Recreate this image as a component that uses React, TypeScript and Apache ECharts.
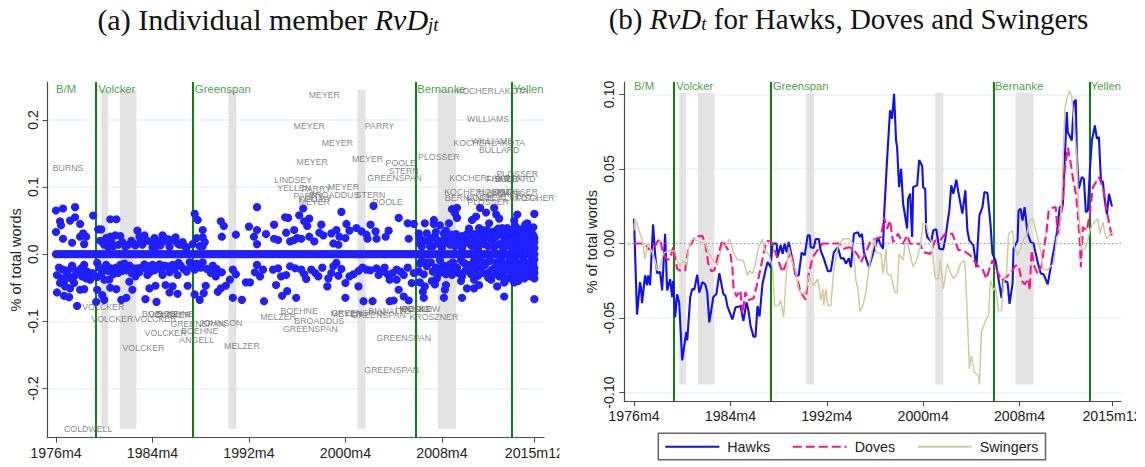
import React, { useEffect, useRef } from "react";
import * as echarts from "echarts";

const tickMonths = [0, 96, 192, 288, 384, 476];
const tickLabels = ["1976m4", "1984m4", "1992m4", "2000m4", "2008m4", "2015m12"];
const leftTicks = [-0.2, -0.1, 0, 0.1, 0.2];
const rightTicks = [-0.1, -0.05, 0, 0.05, 0.1];
const chairMonths = [40, 136, 358, 454];
const recessions = [[45, 52], [63.5, 80], [171.5, 179.5], [300, 308], [380, 398]];
const chairNames = ["B/M", "Volcker", "Greenspan", "Bernanke", "Yellen"];
const chairLabelMonths = [10, 60.5, 166, 383.5, 470];

const zeroMonths = [0,3,6,9,12,15,18,21,24,27,30,33,36,39,42,45,48,51,54,57,60,63,66,69,72,75,78,81,84,87,90,93,96,99,102,105,108,111,114,117,120,123,126,129,132,135,138,141,144,147,150,153,156,159,162,165,168,171,174,177,180,183,186,189,192,195,198,201,204,207,210,213,216,219,222,225,228,231,234,237,240,243,246,249,252,255,258,261,264,267,270,273,276,279,282,285,288,291,294,297,300,303,306,309,312,315,318,321,324,327,330,333,336,339,342,345,348,351,354,357,360,363,366,369,372,375,378,381,384,387,390,393,396,399,402,405,408,411,414,417,420,423,426,429,432,435,438,441,444,447,450,453,456,459,462,465,468,471,474,476];

const memberAbove = [
[0,.065],[7,.068],[19,.07],[37,.0575],[54,.052],[60,.052],[4,.049],[5,.043],[14,.05],[19,.055],[24,.045],[0,.033],[7,.023],[16,.017],[24,.026],[27,.031],[30,.026],[28,.015],
[42,.037],[45,.037],[50,.024],[54,.026],[59,.028],[64,.027],[48,.014],[62,.014],[72,.014],[81,.035],[83,.026],[88,.028],[79,.013],[86,.014],[98,.024],[106,.028],[102,.019],[108,.024],[110,.019],[119,.025],[121,.016],[126,.018],[96,.01],[113,.011],[123,.014],[136,.015],[138,.06],[141,.051],[140,.024],[146,.025],[146,.036],[146,.012],[164,.049],[167,.042],[165,.026],[179,.029],[192,.041],[200,.07],[200,.036],[197,.026],[200,.015],[209,.03],[217,.044],[217,.023],[221,.021],[228,.055],[231,.054],[229,.032],[233,.019],[237,.036],[237,.021],[240,.024],
[246,.068],[284,.063],[316,.072],[242,.058],[252,.053],[247,.049],[250,.042],[264,.044],[262,.032],[266,.028],[244,.023],[252,.026],[257,.019],[274,.031],[279,.036],[282,.026],[276,.016],[281,.014],[288,.024],[289,.045],[292,.035],[299,.039],[304,.034],[309,.029],[310,.023],[313,.044],[318,.034],[319,.023],[328,.026],[331,.035],[341,.054],[350,.046],[356,.045],[351,.023],[367,.046],[376,.051],[376,.045],[382,.043],[391,.046],[394,.067],[399,.069],[397,.061],[399,.054],[361,.031],[369,.031],[362,.016],[377,.026],[386,.031],[394,.029],[406,.026],[411,.038],[414,.051],[418,.056],[422,.069],[428,.062],[436,.069],[438,.059],[441,.053],[421,.039],[431,.046],[424,.029],[436,.034],[444,.039],[456,.05],[459,.059],[476,.06],[449,.039],[469,.046],[475,.04],[457,.031],[466,.039],[472,.026],[452,.021],[462,.024],[476,.024],
];

const memberBelow = [
[1,-.031],[7,-.023],[16,-.017],[28,-.016],[11,-.031],[23,-.027],[31,-.026],[4,-.043],[9,-.048],[14,-.051],[1,-.057],[8,-.062],[13,-.064],[24,-.053],[28,-.052],[21,-.077],[18,-.033],[26,-.033],[34,-.038],[41,-.034],
[41,-.013],[41,-.053],[46,-.061],[48,-.068],[40,-.071],[54,-.05],[60,-.052],[48,-.038],[53,-.038],[65,-.068],[70,-.065],[76,-.053],[73,-.041],[89,-.067],[100,-.071],[93,-.051],[99,-.047],
[64,-.016],[73,-.017],[81,-.021],[88,-.015],[94,-.026],[103,-.015],[111,-.018],[116,-.016],[124,-.017],[134,-.018],[146,-.012],[79,-.033],[91,-.031],[106,-.031],[121,-.031],[109,-.046],[116,-.048],[113,-.057],[121,-.059],[131,-.047],[138,-.06],[143,-.068],[147,-.058],[149,-.047],[138,-.023],[154,-.028],[159,-.033],[165,-.027],[161,-.056],[164,-.051],[169,-.047],[173,-.038],[176,-.023],[179,-.03],[176,-.065],[185,-.068],[189,-.042],[193,-.042],[198,-.027],[200,-.016],[206,-.023],[203,-.033],[207,-.07],[219,-.046],[224,-.033],[229,-.031],[216,-.023],[221,-.021],[225,-.062],[230,-.055],[233,-.018],[238,-.021],[239,-.065],
[244,-.023],[254,-.023],[249,-.037],[261,-.033],[271,-.036],[279,-.013],[276,-.018],[281,-.032],[292,-.033],[270,-.048],[288,-.043],[301,-.025],[301,-.048],[309,-.023],[319,-.021],[321,-.031],[327,-.02],[332,-.038],[339,-.023],[339,-.038],[341,-.053],[346,-.063],[351,-.069],[288,-.065],[306,-.07],[315,-.07],[332,-.07],[336,-.069],[346,-.031],[354,-.043],[362,-.042],[367,-.048],[365,-.056],[366,-.065],[374,-.04],[377,-.045],[386,-.065],[387,-.053],[388,-.046],[404,-.065],[403,-.04],[409,-.051],[416,-.051],[421,-.046],[439,-.048],[446,-.042],[446,-.063],[476,-.067],[394,-.031],[416,-.038],[441,-.033],[459,-.036],[476,-.028],[361,-.026],[382,-.028],
];

const memberCrowded = [
[364,.011],[370,.019],[375,.012],[380,.02],[384,.009],[389,.017],[392,.024],[397,.012],[400,.02],[404,.009],[408,.017],[411,.027],[414,.012],[417,.021],[420,.008],[423,.017],[425,.036],[427,.025],[430,.012],[432,.03],[434,.02],[436,.01],[438,.026],[440,.038],[441,.015],[443,.03],[445,.008],[446,.021],[448,.033],[449,.013],[451,.026],[453,.036],[454,.009],[455,.019],[457,.042],[458,.012],[459,.028],[461,.037],[462,.016],[463,.008],[464,.031],[465,.022],[466,.012],[467,.044],[468,.028],[469,.017],[470,.036],[471,.009],[472,.021],[473,.033],[474,.014],[475,.028],[476,.009],[476,.018],
[364,-.01],[369,-.018],[373,-.012],[378,-.02],[382,-.009],[386,-.017],[391,-.024],[395,-.012],[399,-.02],[403,-.009],[407,-.025],[410,-.016],[413,-.03],[416,-.01],[419,-.021],[422,-.008],[425,-.028],[427,-.016],[430,-.035],[432,-.01],[434,-.023],[436,-.03],[438,-.012],[440,-.019],[442,-.026],[443,-.008],[445,-.033],[446,-.016],[448,-.023],[450,-.036],[451,-.01],[453,-.028],[454,-.018],[456,-.042],[457,-.009],[459,-.025],[461,-.014],[462,-.031],[464,-.02],[465,-.008],[466,-.036],[468,-.013],[469,-.027],[470,-.019],[472,-.033],[473,-.01],[474,-.022],[475,-.015],[476,-.008],[476,-.036],
];

const memberFill = [
[44,.02],[47,.016],[52,.011],[55,.019],[57,.012],[66,.018],[69,.011],[75,.02],[77,.016],[84,.018],[91,.02],[95,.018],[100,.012],[104,.013],[112,.022],[117,.021],[128,.012],[130,.01],[143,.012],[148,.018],
[3,-.02],[5,-.036],[8,-.04],[12,-.024],[15,-.036],[18,-.043],[20,-.025],[25,-.021],[30,-.036],[33,-.03],[36,-.028],[43,-.02],[45,-.03],[47,-.022],[50,-.016],[52,-.025],[55,-.021],[57,-.03],[60,-.02],[62,-.028],[66,-.025],[68,-.014],[70,-.024],[75,-.028],[77,-.021],[83,-.027],[85,-.02],[90,-.022],[92,-.018],[96,-.016],[98,-.024],[101,-.019],[105,-.024],[108,-.017],[113,-.027],[118,-.022],[122,-.013],[127,-.022],[130,-.026],[133,-.012],[140,-.014],[144,-.02],[150,-.022],[156,-.017],[160,-.022],
[247,-.03],[258,-.028],[265,-.02],[274,-.028],[284,-.022],[296,-.03],[305,-.02],[313,-.024],[324,-.026],[330,-.03],[335,-.028],[343,-.026],[350,-.02],[356,-.028],
[362,.024],[366,.02],[372,.012],[374,.024],[378,.033],[382,.014],[386,.022],[388,.035],[392,.014],[395,.02],[398,.03],[402,.014],[404,.027],[406,.017],[409,.03],[412,.015],[416,.03],[418,.013],[420,.03],[422,.022],[426,.015],[429,.036],[431,.024],
[362,-.014],[366,-.03],[370,-.012],[375,-.026],[379,-.036],[384,-.02],[388,-.03],[392,-.015],[396,-.022],[400,-.028],[404,-.033],[406,-.013],[412,-.021],[415,-.027],[418,-.014],[420,-.032],[424,-.019],[428,-.012],[431,-.027],[433,-.038],[437,-.02],[440,-.03],[444,-.013],[447,-.036],[452,-.02],[455,-.033],[458,-.016],[460,-.04],[463,-.024],[467,-.03],[471,-.017],[474,-.029],[476,-.021],
];

const memberLabels: [string, number, number][] = [
["BURNS",12,.128],["MEYER",267,.237],["MEYER",252,.191],["PARRY",322,.191],["MEYER",280,.165],["MEYER",255,.137],["MEYER",310,.142],["POOLE",343,.136],["STERN",346,.124],["GREENSPAN",337,.114],["PLOSSER",381,.144],["KOCHERLAKOTA",434,.243],["WILLIAMS",430,.201],["KOCHERLAKOTA",431,.166],["WILLIAMS",434,.168],["BULLARD",441,.155],["LINDSEY",236,.11],["YELLEN",237,.098],["PARRY",259,.097],["MEYER",286,.1],["STERN",313,.088],["POOLE",330,.077],["BROADDUS",277,.088],["MEYER",257,.078],["PARRY",251,.086],["KELLEY",258,.082],["KOCHERLAKOTA",427,.114],["PLOSSER",459,.12],["BULLARD",457,.112],["FISHER",444,.112],["KOCHERLAKOTA",422,.092],["HOENIG",437,.092],["PLOSSER",459,.092],["LACKER",446,.09],["BERNANKE",411,.083],["KOCHERLAKOTA",444,.083],["FISCHER",477,.083],["PLOSSER",430,.077],
["VOLCKER",47,-.079],["VOLCKER",56,-.097],["VOLCKER",99,-.096],["BOEHNE",104,-.089],["BOEHNE",119,-.089],["VOLCKER",113,-.091],["GREENSPAN",141,-.104],["JOHNSON",164,-.102],["VOLCKER",109,-.117],["BOEHNE",143,-.115],["ANGELL",140,-.128],["VOLCKER",87,-.139],["MELZER",185,-.136],["COLDWELL",32,-.26],["MELZER",221,-.093],["BOEHNE",242,-.085],["BROADDUS",262,-.099],["GREENSPAN",253,-.111],["MEYER",289,-.089],["GREENSPAN",321,-.091],["GREENSPAN",301,-.088],["PIANALTO",332,-.085],["POOLE",359,-.082],["HOENIG",355,-.082],["MOSKOW",362,-.082],["KROSZNER",376,-.093],["GREENSPAN",346,-.125],["GREENSPAN",334,-.172],
];

const hawks = [
[0,.0166],[3,-.0477],[6,-.026],[7,-.03],[8,-.04],[11,-.0215],[13,-.028],[14,-.0215],[16,-.028],[19,.0128],[21,-.007],[23,-.02],[26,-.019],[28,-.0315],[31,.0065],[33,-.0315],[36,-.024],[38,-.036],[39,-.025],[41,-.0495],[43,-.034],[45,-.04],[48,-.0785],[52,-.0595],[53,-.065],[56,-.036],[58,-.0305],[60,-.031],[63,-.021],[65,-.033],[68,-.026],[71,-.0275],[73,-.033],[75,-.053],[79,-.036],[82,-.034],[85,-.02],[89,-.034],[91,-.035],[93,-.042],[98,-.051],[101,-.043],[106,-.042],[109,-.052],[112,-.0395],[114,-.045],[116,-.055],[119,-.0625],[121,-.0625],[123,-.042],[125,-.049],[128,-.027],[131,-.018],[133,-.0125],[136,-.016],[138,0],[142,0],[143,-.009],[146,-.001],[148,-.007],[150,0],[152,-.006],[154,.001],[157,-.008],[161,-.0215],[164,-.0215],[167,-.006],[170,-.008],[173,.0054],[175,.0054],[176,-.0025],[179,-.003],[181,.003],[184,.003],[186,-.005],[189,-.01],[193,-.0186],[196,-.0186],[199,-.006],[203,-.0025],[206,-.01],[209,-.01],[211,-.0136],[214,-.01],[216,-.016],[219,.0065],[223,.0076],[225,.0043],[227,.0065],[229,-.006],[234,-.016],[237,-.009],[240,-.0025],[243,.004],[245,0],[248,-.0036],[249,.0177],[252,.0557],[255,.0893],[257,.0837],[259,.1004],[261,.069],[262,.0647],[264,.0378],[266,.05],[268,.0266],[272,.01],[273,.03],[275,.0334],[277,.0043],[278,.0378],[282,.039],[284,.056],[287,.052],[288,.0374],[290,.0367],[291,.0087],[292,.0043],[296,.001],[298,.0087],[301,.0096],[304,-.0036],[308,-.004],[310,.003],[312,.0128],[314,.022],[316,.039],[318,.0333],[321,.0427],[323,.0345],[327,.02],[330,.0356],[332,.0087],[334,.002],[338,-.0013],[341,-.016],[344,.0188],[347,.0244],[349,.0345],[352,.0338],[355,.0132],[357,-.007],[360,-.0114],[363,-.0237],[366,-.0365],[368,-.0248],[372,-.026],[374,-.0405],[377,-.027],[378,-.0036],[382,.002],[383,.022],[385,.0233],[387,.0154],[389,.0244],[392,.0065],[395,.001],[398,0],[399,-.0036],[402,-.0125],[405,-.02],[408,-.0208],[412,-.0275],[415,-.016],[418,-.0047],[421,.0065],[424,.0244],[427,.0255],[431,.0881],[432,.0747],[436,.0691],[438,.0948],[440,.0964],[441,.0602],[443,.0367],[446,.0445],[448,.0434],[450,.021],[452,.0221],[454,.049],[456,.0691],[459,.0792],[461,.0702],[463,.0714],[465,.0423],[467,.0412],[469,.0277],[471,.0195],[473,.0333],[476,.0248],
];

const doves = [
[0,0],[11,0],[14,-.0036],[19,-.0047],[23,.001],[26,.003],[29,-.007],[33,-.011],[36,-.0103],[39,-.0025],[43,-.017],[48,-.019],[51,-.018],[54,-.0036],[58,.001],[61,.0047],[68,.0051],[71,0],[74,-.0136],[77,-.0186],[80,-.018],[84,-.007],[88,.002],[91,-.0013],[96,-.007],[98,-.016],[99,-.029],[102,-.0356],[106,-.0315],[108,-.0472],[111,-.0327],[114,-.038],[119,-.037],[122,-.029],[126,-.017],[129,-.007],[132,.0016],[136,.0013],[139,-.0025],[143,-.0103],[148,-.0192],[153,-.0114],[156,-.0047],[159,-.0148],[163,-.0248],[166,-.0327],[171,-.0378],[174,-.0204],[178,-.0092],[183,-.0043],[188,0],[204,0],[209,-.0036],[214,-.0025],[218,-.0036],[223,-.008],[226,-.0125],[231,-.0058],[236,.002],[241,.0031],[246,.0043],[249,.0177],[252,.0098],[255,.0154],[258,.0009],[263,.0065],[268,-.0002],[272,.0054],[275,-.0002],[285,-.0002],[288,-.0058],[295,-.007],[300,.002],[305,.002],[310,.0065],[317,.0065],[323,-.0043],[328,-.0047],[335,-.008],[342,-.0148],[347,-.017],[351,-.0237],[355,-.0148],[357,-.0114],[362,-.019],[366,-.0248],[371,-.0226],[377,-.018],[380,-.0148],[383,-.0148],[386,-.0248],[389,-.0275],[393,-.0237],[394,-.0315],[396,-.0047],[399,-.0159],[402,-.0204],[406,-.0148],[409,0],[411,.0087],[413,.022],[417,.024],[420,.0244],[422,.0065],[425,.0177],[427,.0266],[429,.049],[432,.0642],[435,.0535],[437,.0445],[440,.0333],[442,.02],[444,0],[445,-.0159],[447,.011],[451,.0087],[454,.02],[457,.0378],[463,.0445],[467,.0378],[472,.0177],[476,.0043],
];

const swingers = [
[0,.0087],[1,.0166],[3,.0132],[6,.0065],[8,.003],[11,-.0103],[14,0],[18,-.0058],[21,-.0114],[23,-.0181],[26,-.0159],[29,-.007],[33,-.0051],[41,-.0051],[43,-.0114],[46,-.0159],[49,-.0114],[53,-.0148],[54,-.0047],[57,.002],[59,.0031],[66,.0009],[71,0],[74,-.0058],[79,-.0114],[83,-.0148],[86,-.0058],[89,-.0013],[92,-.0013],[95,.003],[99,-.0058],[103,-.011],[109,-.0114],[113,-.0215],[115,-.0181],[118,-.0204],[121,-.0136],[124,-.0025],[128,.0031],[130,-.0047],[134,-.007],[138,-.0159],[140,-.0416],[144,-.0416],[146,-.0382],[149,-.0494],[151,-.027],[154,-.0025],[158,-.0136],[161,-.0181],[164,-.0315],[168,-.0338],[171,-.0327],[174,-.0215],[176,-.0248],[179,-.0282],[183,-.0237],[186,-.0382],[188,-.0304],[189,-.0416],[191,-.0304],[193,-.0416],[196,-.0416],[199,-.0181],[203,-.0025],[208,.0031],[214,.0031],[218,0],[221,-.0248],[223,-.0304],[225,-.0456],[228,-.0416],[231,-.0327],[234,-.0159],[238,-.0025],[240,.003],[241,-.0058],[246,-.007],[248,-.0204],[251,-.0036],[252,-.0204],[256,-.0215],[257,-.0248],[260,-.0327],[262,-.0333],[264,-.007],[268,-.0114],[270,.001],[273,-.0013],[275,-.007],[278,-.0159],[282,-.0103],[285,-.0025],[288,.0132],[291,.0132],[293,.0065],[297,0],[298,-.0114],[300,-.0237],[303,-.0237],[305,-.0114],[308,-.0304],[312,-.0136],[315,-.0192],[318,-.0237],[322,-.0204],[325,-.0136],[327,-.0125],[329,-.0114],[330,-.018],[332,-.0494],[334,-.0841],[336,-.0752],[339,-.0864],[343,-.0886],[344,-.0946],[346,-.0595],[350,-.0517],[353,-.0483],[355,-.0248],[358,-.0315],[360,-.0293],[363,-.045],[366,-.045],[368,-.026],[371,-.0204],[373,.0065],[377,.0087],[379,-.0025],[382,-.008],[385,-.0036],[388,.003],[391,.0054],[394,.0154],[397,.0166],[399,.012],[401,.0065],[405,-.0047],[407,-.017],[411,-.0181],[414,-.0159],[418,-.0136],[421,.0043],[424,.0065],[426,.0311],[429,.0893],[431,.0971],[434,.1022],[436,.0982],[438,.0825],[441,.0579],[443,.02],[446,-.0047],[449,-.0036],[452,.002],[454,.0087],[457,.0132],[462,.0166],[464,.0065],[467,.0143],[469,.0065],[471,.0031],[476,.0076],
];

const GREEN = "#0b820b";
const AXIS = "#4a4a4a";
const SANS = "Liberation Sans";

function xAxis(gridIndex: number, min: number, max: number) {
  return {
    type: "value", gridIndex, min, max,
    axisLine: { show: true, onZero: false, lineStyle: { color: AXIS, width: 1.2 } },
    axisTick: { show: true, length: 5, customValues: tickMonths, lineStyle: { color: AXIS, width: 1 } },
    axisLabel: {
      customValues: tickMonths, margin: 8, color: "#222", fontSize: 14.2, fontFamily: SANS,
      formatter: (v: number) => tickLabels[tickMonths.indexOf(v)] ?? "",
    },
    splitLine: { show: false },
  };
}

function yAxis(gridIndex: number, min: number, max: number, ticks: number[], digits: number, nameGap: number) {
  return {
    type: "value", gridIndex, min, max,
    name: "% of total words", nameLocation: "middle", nameGap,
    nameTextStyle: { color: "#222", fontSize: 14.5, fontFamily: SANS },
    axisLine: { show: true, onZero: false, lineStyle: { color: AXIS, width: 1.2 } },
    axisTick: { show: true, length: 5, customValues: ticks, lineStyle: { color: AXIS, width: 1 } },
    axisLabel: {
      customValues: ticks, rotate: 90, margin: 8, color: "#222", fontSize: 14.2, fontFamily: SANS,
      formatter: (v: number) => v.toFixed(digits),
    },
    splitLine: { show: true, lineStyle: { color: "#ebf3f4", width: 1.5 } },
  };
}

function eventsSeries(index: number, labelY: number, top: number, bottom: number) {
  return {
    type: "scatter", xAxisIndex: index, yAxisIndex: index, z: 2, symbolSize: 0, silent: true,
    data: chairNames.map((name, i) => ({ name, value: [chairLabelMonths[i], labelY] })),
    label: {
      show: true, position: "inside", formatter: "{b}", color: "#118a11", fontSize: 11.3, fontFamily: SANS,
    },
    markArea: {
      silent: true, z: 1,
      itemStyle: { color: "#e3e3e3" },
      data: recessions.map(([a, b]) => [{ xAxis: a, yAxis: top }, { xAxis: b, yAxis: bottom }]),
    },
    markLine: {
      silent: true, symbol: "none", animation: false, label: { show: false }, z: 3,
      lineStyle: { color: GREEN, width: 2, type: "solid" },
      data: chairMonths.map((m) => ({ xAxis: m })),
    },
  };
}

function lineSeries(name: string, data: number[][], color: string, width: number, dash: any, z: number) {
  return {
    name, type: "line", xAxisIndex: 1, yAxisIndex: 1, data, z, showSymbol: false, symbol: "none",
    lineStyle: { color, width, type: dash }, itemStyle: { color },
  };
}

const titleText = (left: number, rich: string, size: number) => ({
  text: rich, left, top: -1, textAlign: "center",
  textStyle: {
    fontFamily: "Liberation Serif", fontSize: size, fontWeight: "normal", color: "#111",
    rich: {
      r: { fontFamily: "Liberation Serif", fontSize: size, color: "#111" },
      i: { fontFamily: "Liberation Serif", fontSize: size, fontStyle: "italic", color: "#111" },
      s: { fontFamily: "Liberation Serif", fontSize: 19, fontStyle: "italic", color: "#111", padding: [10, 0, 0, 0] },
    },
  },
});

export default function App() {
  const ref = useRef<HTMLDivElement>(null);
  useEffect(() => {
    document.body.style.margin = "0";
    const chart = echarts.init(ref.current!, null, { renderer: "svg" });
    chart.setOption({
      animation: false,
      backgroundColor: "#fff",
      title: [
        titleText(263, "{r|(a) Individual member }{i|RvD}{s|jt}", 30),
        titleText(843.5, "{r|(b) }{i|RvD}{s|t}{r| for Hawks, Doves and Swingers}", 29),
      ],
      grid: [
        { left: 47.5, right: 601, top: 82, bottom: 29.3 },
        { left: 624.3, right: 24, top: 82, bottom: 65.7 },
      ],
      xAxis: [xAxis(0, -8.46, 485.6), xAxis(1, -9.66, 485)],
      yAxis: [
        yAxis(0, -0.2733, 0.2564, leftTicks, 1, 24),
        yAxis(1, -0.1059, 0.1083, rightTicks, 2, 25),
      ],
      legend: {
        data: ["Hawks", "Doves", "Swingers"], left: 658.3, top: 433.3,
        padding: [6.5, 7, 6, 6], itemWidth: 54, itemHeight: 14, itemGap: 21.5,
        borderColor: "#666", borderWidth: 1.5, backgroundColor: "#fff",
        itemStyle: { opacity: 0 },
        textStyle: { color: "#222", fontSize: 14.3, fontFamily: SANS, padding: [0, 0, 0, 3] },
      },
      series: [
        eventsSeries(0, 0.246, 0.2445, -0.26),
        {
          type: "scatter", xAxisIndex: 0, yAxisIndex: 0, z: 4, symbol: "circle", symbolSize: 8.2, silent: true,
          itemStyle: { color: "#1f1fff", opacity: 1 },
          data: [...zeroMonths.map((m) => [m, 0]), ...memberAbove, ...memberBelow, ...memberCrowded, ...memberFill],
        },
        {
          type: "scatter", xAxisIndex: 0, yAxisIndex: 0, z: 5, symbolSize: 0, silent: true,
          data: memberLabels.map(([name, m, v]) => ({ name, value: [m, v] })),
          label: {
            show: true, position: "inside", formatter: "{b}", color: "#686868", fontSize: 8.8, fontFamily: SANS,
          },
        },
        eventsSeries(1, 0.1056, 0.1009, -0.0946),
        {
          type: "line", xAxisIndex: 1, yAxisIndex: 1, data: [], z: 2, silent: true,
          markLine: {
            silent: true, symbol: "none", label: { show: false },
            lineStyle: { color: "#777", width: 1, type: [1, 3] },
            data: [{ yAxis: 0 }],
          },
        },
        lineSeries("Hawks", hawks, "#1010f5", 2.1, "solid", 4),
        lineSeries("Doves", doves, "#ff1286", 2.1, [9, 4], 5),
        lineSeries("Swingers", swingers, "#d2ca9c", 1.5, "solid", 6),
      ],
      graphic: [
        { type: "rect", z: 100, shape: { x: 559.5, y: 442, width: 12, height: 22 }, style: { fill: "#fff" } },
        { type: "rect", z: 100, shape: { x: 1136, y: 406, width: 9, height: 22 }, style: { fill: "#fff" } },
      ],
    });
    return () => chart.dispose();
  }, []);
  return <div ref={ref} style={{ width: 1145, height: 467 }} />;
}
